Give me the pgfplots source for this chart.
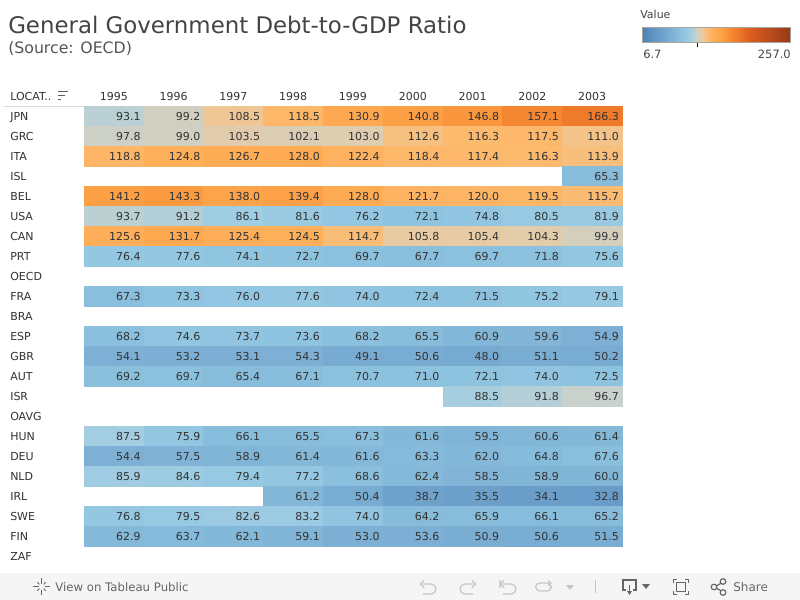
\documentclass[border=0pt]{standalone}
\usepackage{fontspec}
\setmainfont{DejaVu Sans}
\usepackage{pgfplots}
\usepackage{pgfplotstable}
\pgfplotsset{compat=1.18}
\definecolor{txt}{HTML}{333333}
\definecolor{ttl}{HTML}{444444}
\definecolor{sub}{HTML}{555555}
\definecolor{foot}{HTML}{F5F5F5}
\definecolor{ico}{HTML}{666666}
\definecolor{icl}{HTML}{C4C4C4}
\pgfplotsset{colormap={debt}{
  rgb255=(78,130,186) rgb255=(89,140,191) rgb255=(99,151,197) rgb255=(109,160,202)
  rgb255=(118,169,208) rgb255=(127,178,213) rgb255=(136,190,220) rgb255=(147,199,226)
  rgb255=(160,205,226) rgb255=(201,209,203) rgb255=(236,202,158) rgb255=(253,185,108)
  rgb255=(254,172,85) rgb255=(253,165,75) rgb255=(250,150,60) rgb255=(245,135,50)
  rgb255=(238,122,42) rgb255=(231,106,36) rgb255=(221,94,32) rgb255=(211,88,31)
  rgb255=(201,83,30) rgb255=(190,77,29) rgb255=(180,72,28) rgb255=(170,66,27)
  rgb255=(159,61,27) rgb255=(149,55,26)
}}
\pgfdeclareplotmark{cell}{%
  \pgfpathrectanglecorners{\pgfpoint{-22.42pt}{-7.5pt}}{\pgfpoint{22.42pt}{7.5pt}}%
  \pgfusepathqfillstroke}
\pgfdeclareplotmark{blank}{}
\pgfplotstableread[row sep=\\]{
x y v\\
0 0 93.1\\ 1 0 99.2\\ 2 0 108.5\\ 3 0 118.5\\ 4 0 130.9\\ 5 0 140.8\\ 6 0 146.8\\ 7 0 157.1\\ 8 0 166.3\\
0 1 97.8\\ 1 1 99.0\\ 2 1 103.5\\ 3 1 102.1\\ 4 1 103.0\\ 5 1 112.6\\ 6 1 116.3\\ 7 1 117.5\\ 8 1 111.0\\
0 2 118.8\\ 1 2 124.8\\ 2 2 126.7\\ 3 2 128.0\\ 4 2 122.4\\ 5 2 118.4\\ 6 2 117.4\\ 7 2 116.3\\ 8 2 113.9\\
8 3 65.3\\
0 4 141.2\\ 1 4 143.3\\ 2 4 138.0\\ 3 4 139.4\\ 4 4 128.0\\ 5 4 121.7\\ 6 4 120.0\\ 7 4 119.5\\ 8 4 115.7\\
0 5 93.7\\ 1 5 91.2\\ 2 5 86.1\\ 3 5 81.6\\ 4 5 76.2\\ 5 5 72.1\\ 6 5 74.8\\ 7 5 80.5\\ 8 5 81.9\\
0 6 125.6\\ 1 6 131.7\\ 2 6 125.4\\ 3 6 124.5\\ 4 6 114.7\\ 5 6 105.8\\ 6 6 105.4\\ 7 6 104.3\\ 8 6 99.9\\
0 7 76.4\\ 1 7 77.6\\ 2 7 74.1\\ 3 7 72.7\\ 4 7 69.7\\ 5 7 67.7\\ 6 7 69.7\\ 7 7 71.8\\ 8 7 75.6\\
0 9 67.3\\ 1 9 73.3\\ 2 9 76.0\\ 3 9 77.6\\ 4 9 74.0\\ 5 9 72.4\\ 6 9 71.5\\ 7 9 75.2\\ 8 9 79.1\\
0 11 68.2\\ 1 11 74.6\\ 2 11 73.7\\ 3 11 73.6\\ 4 11 68.2\\ 5 11 65.5\\ 6 11 60.9\\ 7 11 59.6\\ 8 11 54.9\\
0 12 54.1\\ 1 12 53.2\\ 2 12 53.1\\ 3 12 54.3\\ 4 12 49.1\\ 5 12 50.6\\ 6 12 48.0\\ 7 12 51.1\\ 8 12 50.2\\
0 13 69.2\\ 1 13 69.7\\ 2 13 65.4\\ 3 13 67.1\\ 4 13 70.7\\ 5 13 71.0\\ 6 13 72.1\\ 7 13 74.0\\ 8 13 72.5\\
6 14 88.5\\ 7 14 91.8\\ 8 14 96.7\\
0 16 87.5\\ 1 16 75.9\\ 2 16 66.1\\ 3 16 65.5\\ 4 16 67.3\\ 5 16 61.6\\ 6 16 59.5\\ 7 16 60.6\\ 8 16 61.4\\
0 17 54.4\\ 1 17 57.5\\ 2 17 58.9\\ 3 17 61.4\\ 4 17 61.6\\ 5 17 63.3\\ 6 17 62.0\\ 7 17 64.8\\ 8 17 67.6\\
0 18 85.9\\ 1 18 84.6\\ 2 18 79.4\\ 3 18 77.2\\ 4 18 68.6\\ 5 18 62.4\\ 6 18 58.5\\ 7 18 58.9\\ 8 18 60.0\\
3 19 61.2\\ 4 19 50.4\\ 5 19 38.7\\ 6 19 35.5\\ 7 19 34.1\\ 8 19 32.8\\
0 20 76.8\\ 1 20 79.5\\ 2 20 82.6\\ 3 20 83.2\\ 4 20 74.0\\ 5 20 64.2\\ 6 20 65.9\\ 7 20 66.1\\ 8 20 65.2\\
0 21 62.9\\ 1 21 63.7\\ 2 21 62.1\\ 3 21 59.1\\ 4 21 53.0\\ 5 21 53.6\\ 6 21 50.9\\ 7 21 50.6\\ 8 21 51.5\\
}\debt
\begin{document}
\begin{tikzpicture}
\begin{scope}[x=0.75pt,y=-0.75pt]
\path[use as bounding box,fill=white] (0,0) rectangle (800,600);
\fill[foot] (0,573) rectangle (800,600);
\end{scope}
\begin{axis}[
  at={(63pt,-409.5pt)}, anchor=south west,
  scale only axis, width=403.5pt, height=330pt,
  xmin=-0.5, xmax=8.5, ymin=-0.5, ymax=21.5, y dir=reverse,
  clip=false,
  axis line style={draw=none},
  tick style={draw=none},
  /pgf/number format/assume math mode=true,
  xtick={0,...,8},
  xticklabels={1995,1996,1997,1998,1999,2000,2001,2002,2003},
  xticklabel pos=top,
  xtick pos=top,
  xticklabel style={font=\fontsize{8.25pt}{10pt}\selectfont, text=txt, inner sep=0pt},
  xtick align=outside, major tick length=0pt,
  every x tick label/.append style={yshift=3.6pt},
  ytick={0,...,21},
  yticklabels={JPN,GRC,ITA,ISL,BEL,USA,CAN,PRT,OECD,FRA,BRA,ESP,GBR,AUT,ISR,OAVG,HUN,DEU,NLD,IRL,SWE,FIN},
  yticklabel style={font=\fontsize{8.25pt}{10pt}\selectfont, text=txt, inner sep=0pt, anchor=base west, xshift=-55.5pt, yshift=-3pt},
  colormap name=debt,
  point meta min=6.7, point meta max=257,
  colorbar horizontal,
  colorbar style={
    at={(1.039,1.1432)}, anchor=south west,
    width=111pt, height=11.25pt,
    scale only axis,
    xtick={99.5}, xticklabels={},
    major tick length=3pt,
    xtick align=outside,
    xtick pos=bottom,
    tick style={draw=black, line width=0.6pt},
    ytick=\empty,
    axis line style={draw={rgb,255:red,168;green,165;blue,150}, line width=0.75pt},
  },
]
\addplot[
  scatter, only marks, mark=cell, line width=0.1pt,
  scatter/use mapped color={draw=mapped color, fill=mapped color},
  point meta=explicit,
] table[x=x,y=y,meta=v] {\debt};
\addplot[
  only marks, mark=blank,
  point meta=explicit,
  nodes near coords={\pgfmathprintnumber[fixed,fixed zerofill,precision=1,assume math mode=true]{\pgfplotspointmeta}},
  nodes near coords align={anchor=base east},
  every node near coord/.append style={font=\fontsize{8.25pt}{10pt}\selectfont, text=txt, inner sep=0pt, xshift=20.2pt, yshift=-3pt},
] table[x=x,y=y,meta=v] {\debt};
\end{axis}
\begin{scope}[x=0.75pt,y=-0.75pt]
% title
\node[anchor=base west,inner sep=0pt,text=ttl,font=\fontsize{17.15pt}{20pt}\selectfont] at (8,33) {General Government Debt-to-GDP Ratio};
\node[anchor=base west,inner sep=0pt,text=sub,font=\fontsize{11.8pt}{14pt}\selectfont] at (8,53) {(Source: OECD)};
% legend
\node[anchor=base west,inner sep=0pt,text=ttl,font=\fontsize{8.25pt}{10pt}\selectfont] at (640,18) {Value};
\node[anchor=base west,inner sep=0pt,text=ttl,font=\fontsize{8.6pt}{10pt}\selectfont] at (643,58) {6.7};
\node[anchor=base east,inner sep=0pt,text=ttl,font=\fontsize{8.6pt}{10pt}\selectfont] at (791,58) {257.0};
% header
\node[anchor=base west,inner sep=0pt,text=txt,font=\fontsize{8.25pt}{10pt}\selectfont] at (10,100) {LOCAT..};
\draw[txt!80,line width=1pt] (58,91.5)--(68,91.5) (58,95.5)--(65,95.5) (58,99.5)--(61,99.5);
\draw[black!15,line width=0.75pt] (4,106.5)--(84,106.5);
% clipped last row label
\begin{scope}
\clip (0,546) rectangle (84,559);
\node[anchor=base west,inner sep=0pt,text=txt,font=\fontsize{8.25pt}{10pt}\selectfont] at (10,560) {ZAF};
\end{scope}
% footer
\foreach \a in {0,45,...,315}{\draw[ico,line width=0.6pt] (41.5,586.5)+(\a:3)--+(\a:6);}
\foreach \a in {0,90,180,270}{\draw[ico,line width=0.8pt] (41.5,586.5)+(\a:5.5)--+(\a:8.5);}
\node[anchor=base west,inner sep=0pt,text=ico,font=\fontsize{8.8pt}{11pt}\selectfont] at (55,591) {View on Tableau Public};
\begin{scope}[icl,line width=0.9pt]
\draw (423,584)--(430,584) .. controls (438,584) and (438,594) .. (430,594)--(423,594);
\draw (424,580.5)--(420.5,584)--(424,587.5);
\draw (473,584)--(466,584) .. controls (458,584) and (458,594) .. (466,594)--(473,594);
\draw (472,580.5)--(475.5,584)--(472,587.5);
\draw (503,584)--(510,584) .. controls (518,584) and (518,594) .. (510,594)--(503,594);
\draw (504,580.5)--(500.5,584)--(504,587.5) (500,580)--(500,588);
\draw (540,583)--(546,583) .. controls (553,583) and (553,591) .. (546,591)--(541,591) .. controls (534,591) and (534,583) .. (540,583);
\draw (548,580.5)--(551,583)--(548,585.5);
\fill (566,585)--(574,585)--(570,590)--cycle;
\draw (595.5,580)--(595.5,593);
\end{scope}
\begin{scope}[ico,line width=0.9pt]
\draw (626,590)--(623,590)--(623,580)--(636,580)--(636,590)--(633,590);
\draw (629.5,585)--(629.5,593);
\fill (627,591)--(632,591)--(629.5,595)--cycle;
\fill (642,584)--(650,584)--(646,589)--cycle;
\draw (673.5,583)--(673.5,579.5)--(677,579.5) (685,579.5)--(688.5,579.5)--(688.5,583) (688.5,591)--(688.5,594.5)--(685,594.5) (677,594.5)--(673.5,594.5)--(673.5,591);
\draw (676.5,582.5) rectangle (685.5,591.5);
\draw (714.5,587)--(723,582) (714.5,587)--(723,592);
\draw[fill=foot] (714,587) circle (2.8) (723,581.5) circle (2.8) (723,592.5) circle (2.8);
\end{scope}
\node[anchor=base west,inner sep=0pt,text=ico,font=\fontsize{9pt}{11pt}\selectfont] at (733,591) {Share};
\end{scope}
\end{tikzpicture}
\end{document}
